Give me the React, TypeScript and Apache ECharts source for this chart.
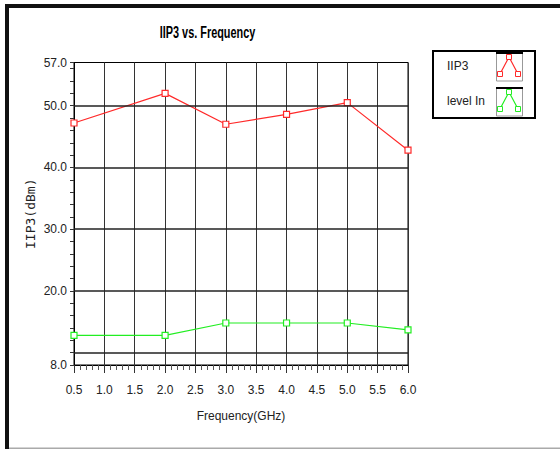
import React, { useEffect, useRef } from "react";
import * as echarts from "echarts";

const FREQ = [0.5, 2.0, 3.0, 4.0, 5.0, 6.0];
const IIP3 = [47.2, 52.0, 47.0, 48.6, 50.5, 42.8];
const LEVEL_IN = [12.8, 12.8, 14.8, 14.8, 14.8, 13.7];
const Y_LABELS = [8, 20, 30, 40, 50, 57];
const H_GRID = [10, 20, 30, 40, 50];
const LEGEND_NAMES = ["IIP3", "level In"];
const TITLE = "IIP3 vs. Frequency";

const RED = "#ff2a2a";
const GREEN = "#22ee22";
const FONT = "'Liberation Sans', Arial, sans-serif";

function legendIcon(y0: number, color: string) {
  const pts = [
    [500, y0 + 20],
    [509, y0 + 3],
    [518, y0 + 20],
  ];
  const children: any[] = [
    { type: "rect", shape: { x: 496.5, y: y0 - 1, width: 26, height: 28 }, style: { fill: "#fff", stroke: "#999", lineWidth: 1 } },
    { type: "line", shape: { x1: 496, y1: y0 - 1, x2: 523, y2: y0 - 1 }, style: { stroke: "#000", lineWidth: 2 } },
    { type: "polyline", shape: { points: pts }, style: { stroke: color, lineWidth: 1.2, fill: null } },
  ];
  pts.forEach((p) => {
    children.push({ type: "rect", shape: { x: p[0] - 2.5, y: p[1] - 2.5, width: 5, height: 5 }, style: { fill: "#fff", stroke: color, lineWidth: 1 } });
  });
  return children;
}

export default function App() {
  const ref = useRef<HTMLDivElement>(null);
  useEffect(() => {
    if (!ref.current) return;
    const chart = echarts.init(ref.current, null, { renderer: "svg" });
    const sym = (color: string) => ({
      symbol: "rect",
      symbolSize: 6,
      itemStyle: { color: "#fff", borderColor: color, borderWidth: 1.2 },
      lineStyle: { color, width: 1.2 },
    });
    chart.setOption({
      animation: false,
      backgroundColor: "#fff",
      grid: { left: 74, right: 152, top: 62.5, bottom: 84, show: true, borderColor: "#000", borderWidth: 1, backgroundColor: "transparent" },
      xAxis: {
        type: "value",
        min: 0.5,
        max: 6,
        interval: 0.5,
        name: "Frequency(GHz)",
        nameLocation: "middle",
        nameGap: 45,
        nameTextStyle: { fontFamily: FONT, fontSize: 12, color: "#222" },
        axisLine: { show: true, lineStyle: { color: "#000", width: 1 } },
        axisTick: { show: true, length: 8, lineStyle: { color: "#333" } },
        minorTick: { show: true, splitNumber: 5, length: 5, lineStyle: { color: "#555" } },
        axisLabel: { margin: 19, fontFamily: FONT, fontSize: 12, color: "#222", formatter: (v: number) => v.toFixed(1) },
        splitLine: { show: true, lineStyle: { color: "#333", width: 1 } },
      },
      yAxis: {
        type: "value",
        min: 8,
        max: 57,
        interval: 2,
        name: "IIP3(dBm)",
        nameLocation: "middle",
        nameGap: 37,
        nameMoveOverlap: false,
        nameRotate: 90,
        nameTextStyle: { fontFamily: "'DejaVu Sans Mono', monospace", fontSize: 13, color: "#222" },
        axisLine: { show: true, lineStyle: { color: "#000", width: 1 } },
        axisTick: { show: true, length: 4, lineStyle: { color: "#333" } },
        axisLabel: {
          margin: 7,
          fontFamily: FONT,
          fontSize: 12,
          color: "#222",
          formatter: (v: number) => (Y_LABELS.some((l) => Math.abs(l - v) < 1e-6) ? v.toFixed(1) : ""),
        },
        splitLine: { show: false },
      },
      series: [
        {
          type: "line",
          data: [],
          z: 1,
          silent: true,
          markLine: {
            silent: true,
            symbol: ["none", "none"],
            label: { show: false },
            lineStyle: { color: "#222", width: 1.5, type: "solid" },
            emphasis: { disabled: true },
            data: H_GRID.map((v) => ({ yAxis: v })),
          },
        },
        { name: LEGEND_NAMES[0], type: "line", z: 3, data: FREQ.map((f, i) => [f, IIP3[i]]), ...sym(RED) },
        { name: LEGEND_NAMES[1], type: "line", z: 3, data: FREQ.map((f, i) => [f, LEVEL_IN[i]]), ...sym(GREEN) },
      ],
      graphic: [
        { type: "rect", shape: { x: 5, y: 4, width: 555, height: 4 }, style: { fill: "#111" } },
        { type: "rect", shape: { x: 5, y: 4, width: 4, height: 445 }, style: { fill: "#111" } },
        { type: "rect", shape: { x: 9, y: 447.5, width: 551, height: 1.5 }, style: { fill: "#aaa" } },
        {
          type: "text",
          x: 207.5,
          y: 33,
          scaleX: 0.68,
          style: { text: TITLE, x: 0, y: 0, align: "center", verticalAlign: "middle", fontFamily: FONT, fontWeight: "bold", fontSize: 16, fill: "#000" },
        },
        { type: "rect", shape: { x: 433, y: 51, width: 102, height: 67 }, style: { fill: "#fff", stroke: "#000", lineWidth: 2 } },
        { type: "text", style: { text: LEGEND_NAMES[0], x: 447, y: 66, fontFamily: FONT, fontSize: 12, fill: "#222", verticalAlign: "middle" } },
        { type: "text", style: { text: LEGEND_NAMES[1], x: 447, y: 101, fontFamily: FONT, fontSize: 12, fill: "#222", verticalAlign: "middle" } },
        ...legendIcon(54, RED),
        ...legendIcon(89, GREEN),
      ],
    });
    return () => chart.dispose();
  }, []);
  return <div ref={ref} style={{ position: "absolute", left: 0, top: 0, width: 560, height: 449 }} />;
}
